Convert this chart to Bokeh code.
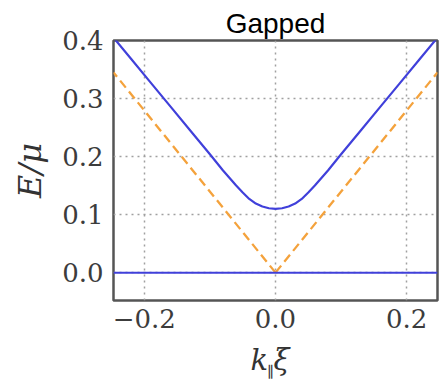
from bokeh.plotting import figure
from bokeh.models import Range1d, FixedTicker
from bokeh.layouts import column
from bokeh.core.properties import value
from bokeh.embed import file_html
from bokeh.resources import INLINE

# Gapped branch: energy E/mu versus k_par * xi
k_gapped = [-0.247, -0.22, -0.19, -0.16, -0.13, -0.10, -0.08, -0.07, -0.06, -0.05, -0.04,
            -0.03, -0.02, -0.01, 0.0, 0.01, 0.02, 0.03, 0.04, 0.05, 0.06, 0.07, 0.08,
            0.10, 0.13, 0.16, 0.19, 0.22, 0.247]
E_gapped = [0.405, 0.368, 0.327, 0.286, 0.245, 0.204, 0.176, 0.163, 0.150, 0.138, 0.127,
            0.119, 0.114, 0.111, 0.110, 0.111, 0.114, 0.119, 0.127, 0.138, 0.150, 0.163, 0.176,
            0.204, 0.245, 0.286, 0.327, 0.368, 0.405]

# Zero-energy branch
k_zero = [-0.247, 0.247]
E_zero = [0.0, 0.0]

# Gapless (linear) reference, dashed
k_linear = [-0.247, 0.0, 0.247]
E_linear = [0.345, 0.0, 0.345]

x_ticks = [-0.2, 0.0, 0.2]
y_ticks = [0.0, 0.1, 0.2, 0.3, 0.4]

BLUE = "#4040da"
ORANGE = "#f4a23c"
INK = "#333333"

x_range = Range1d(-0.247, 0.247)

p = figure(width=439, height=339, output_backend="svg", toolbar_location=None,
           x_range=x_range, y_range=Range1d(-0.048, 0.4),
           min_border_left=113, min_border_right=2, min_border_top=40, min_border_bottom=39)

p.background_fill_color = "white"
p.border_fill_color = "white"
p.outline_line_color = "#555555"
p.outline_line_width = 2.5

p.title.text = "Gapped"
p.title.align = "center"
p.title.text_font = "Liberation Sans"
p.title.text_font_size = "28px"
p.title.text_font_style = "normal"
p.title.text_color = "black"
p.title.standoff = 4

for ax in (p.xaxis[0], p.yaxis[0]):
    ax.axis_line_color = None
    ax.major_tick_line_color = None
    ax.minor_tick_line_color = None
    ax.major_tick_out = 0
    ax.major_tick_in = 0
    ax.major_label_text_font = "DejaVu Serif"
    ax.major_label_text_font_size = "26px"
    ax.major_label_text_color = "#3c3c3c"

p.xaxis.ticker = FixedTicker(ticks=x_ticks)
p.yaxis.ticker = FixedTicker(ticks=y_ticks)
p.xaxis.major_label_overrides = {-0.2: "\u22120.2", 0.0: "0.0", 0.2: "0.2"}
p.yaxis.major_label_overrides = {t: f"{t:.1f}" for t in y_ticks}
p.xaxis.major_label_standoff = 8
p.yaxis.major_label_standoff = 10

p.yaxis.axis_label = "E/\u03bc"
p.yaxis.axis_label_text_font = "DejaVu Serif"
p.yaxis.axis_label_text_font_style = "italic"
p.yaxis.axis_label_text_font_size = "32px"
p.yaxis.axis_label_text_color = INK
p.yaxis.axis_label_standoff = 10

p.xgrid.ticker = FixedTicker(ticks=x_ticks)
p.ygrid.ticker = FixedTicker(ticks=y_ticks)
for g in (p.xgrid[0], p.ygrid[0]):
    g.grid_line_color = "#a0a0a0"
    g.grid_line_dash = "2 4"
    g.grid_line_width = 1.5

# curves
p.multi_line(xs=[[k_linear[1], k_linear[0]], [k_linear[1], k_linear[2]]],
             ys=[[E_linear[1], E_linear[0]], [E_linear[1], E_linear[2]]],
             line_color=ORANGE, line_width=2.3, line_dash="9 5")
p.line(k_gapped, E_gapped, line_color=BLUE, line_width=2.2)
p.line(k_zero, E_zero, line_color=BLUE, line_width=2)

# x-axis label strip: k with a subscript parallel sign, then xi
lab = figure(width=439, height=43, output_backend="svg", toolbar_location=None,
             x_range=x_range, y_range=Range1d(0, 43),
             min_border_left=113, min_border_right=2, min_border_top=0, min_border_bottom=0)
lab.axis.visible = False
lab.grid.visible = False
lab.outline_line_color = None
lab.background_fill_color = "white"
lab.border_fill_color = "white"
lab.text(x=[-0.038], y=[40], text=["k"], text_font=value("DejaVu Serif"),
         text_font_style="italic", text_font_size="29px", text_color=INK,
         text_align="left", text_baseline="top")
lab.text(x=[-0.013], y=[20], text=["\u2225"], text_font=value("DejaVu Serif"),
         text_font_size="15px", text_color=INK,
         text_align="left", text_baseline="top")
lab.text(x=[-0.003], y=[40], text=["\u03be"], text_font=value("DejaVu Serif"),
         text_font_style="italic", text_font_size="29px", text_color=INK,
         text_align="left", text_baseline="top")

layout = column(p, lab, spacing=0)
open("out.html", "w").write(file_html(layout, INLINE))
